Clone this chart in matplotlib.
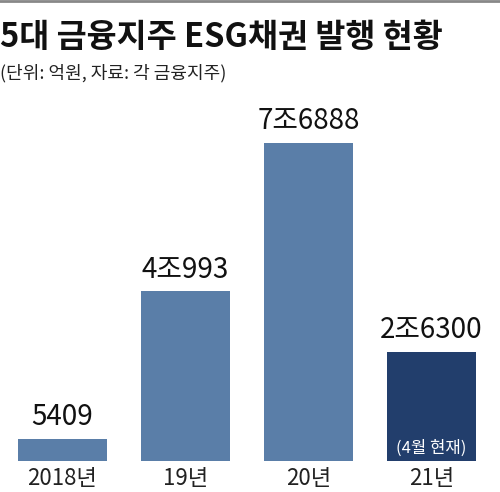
import matplotlib
matplotlib.use("Agg")
import matplotlib.pyplot as plt
from matplotlib.lines import Line2D

plt.rcParams['font.family'] = ['Noto Sans CJK KR', 'DejaVu Sans']

years = ['2018년', '19년', '20년', '21년']
values = [5409, 40993, 76888, 26300]
value_labels = ['5409', '4조993', '7조6888', '2조6300']
colors = ['#5a7ea8', '#5a7ea8', '#5a7ea8', '#223e6c']

fig = plt.figure(figsize=(5.0, 4.92), dpi=100)
W, H = 500, 492

# axes: bars sit on y=461px, tallest reaches y=143px
ax = fig.add_axes([0, (H - 461) / H, 1, 318 / H])
xs = range(len(values))
ax.bar(xs, values, width=89 / 123, color=colors)
ax.set_xlim(-62.5 / 123, (500 - 62.5) / 123)
ax.set_ylim(0, max(values))
ax.axis('off')

for x, v, lab in zip(xs, values, value_labels):
    ax.annotate(lab, (x, v), xytext=(0, 5), textcoords='offset points',
                ha='center', va='bottom', fontsize=20, color='#111111', clip_on=False)
    ax.annotate(years[x], (x, 0), xytext=(0, -4), textcoords='offset points',
                ha='center', va='top', fontsize=16, color='#222222', clip_on=False)

ax.annotate('(4월 현재)', (3, 0), xytext=(0, 3), textcoords='offset points',
            ha='center', va='bottom', fontsize=12, color='white')

fig.text(0, 1 - 38 / H, '5대 금융지주 ESG채권 발행 현황', fontsize=23.5, fontweight='bold',
         ha='left', va='center', color='#111111')
fig.text(0, 1 - 73 / H, '(단위: 억원, 자료: 각 금융지주)', fontsize=13,
         ha='left', va='center', color='#222222')
fig.add_artist(Line2D([0, 1], [1 - 1 / H, 1 - 1 / H], color='#888888', lw=2,
                      transform=fig.transFigure))

fig.savefig('out.png', dpi=100)
